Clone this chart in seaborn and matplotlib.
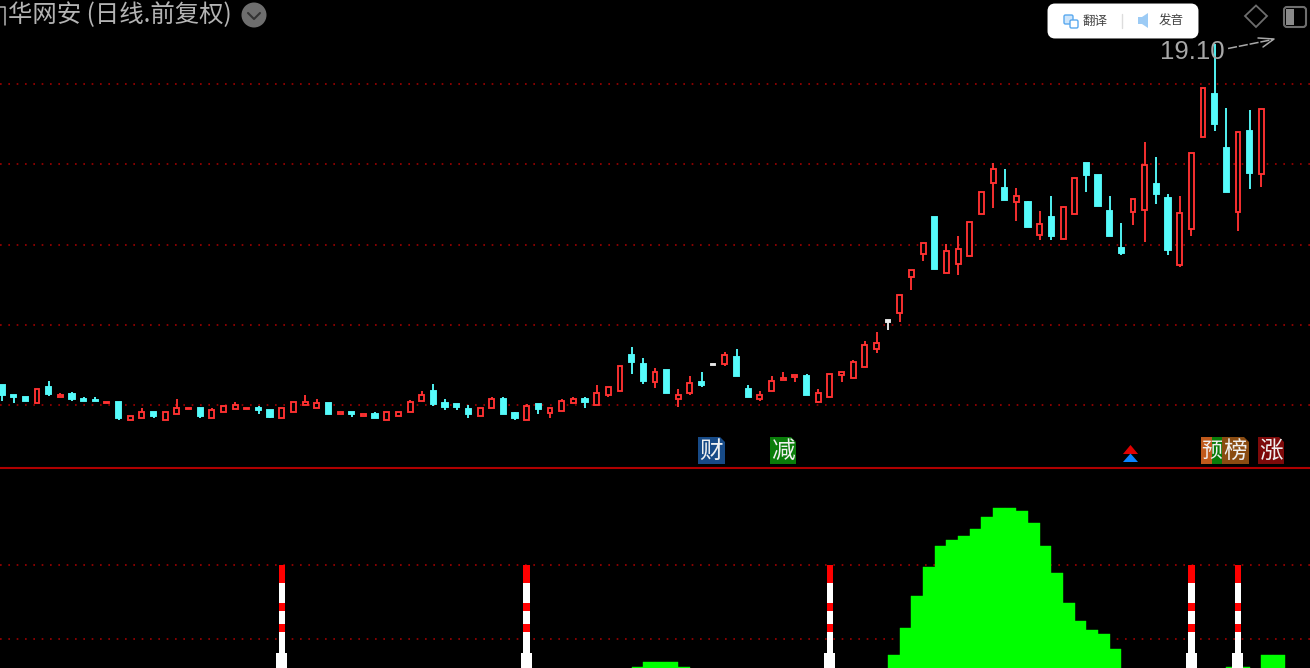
import matplotlib
matplotlib.use("Agg")
import matplotlib.pyplot as plt
from matplotlib.lines import Line2D
from matplotlib.patches import Polygon, Rectangle, FancyBboxPatch, Circle
import numpy as np
import seaborn as sns

# ---- data ----
opens = [8.87,8.57,8.51,8.33,8.81,8.51,8.60,8.45,8.42,8.33,
         8.36,7.82,7.88,8.06,7.82,8.00,8.15,8.18,7.88,8.06,
         8.15,8.15,8.18,8.12,7.88,8.06,8.27,8.18,8.33,8.00,
         8.06,7.94,8.00,7.82,7.94,8.06,8.39,8.69,8.33,8.30,
         8.15,7.94,8.18,8.45,8.03,7.82,8.30,8.03,8.09,8.33,
         8.45,8.27,8.57,8.69,9.77,9.50,8.96,9.32,8.45,8.63,
         8.96,9.50,9.50,9.71,8.75,8.45,8.69,9.02,9.11,9.14,
         8.36,8.51,9.17,9.08,9.41,9.95,10.82,11.03,12.11,12.80,
         13.91,12.23,12.50,12.74,14.00,14.93,14.78,14.36,14.36,13.37,
         13.91,13.25,14.00,15.53,15.17,14.09,12.98,14.06,14.12,14.90,
         14.48,12.47,13.55,16.31,17.60,15.98,14.06,16.49,15.20]
closes = [8.57,8.51,8.39,8.75,8.60,8.57,8.45,8.39,8.39,8.36,
          7.88,7.94,8.06,7.94,8.06,8.18,8.18,7.94,8.12,8.24,
          8.27,8.18,8.12,7.91,8.18,8.36,8.36,8.33,8.00,8.06,
          8.00,8.00,7.88,8.06,8.06,8.36,8.57,8.30,8.21,8.21,
          8.00,8.18,8.45,8.00,7.88,8.24,8.15,8.18,8.39,8.45,
          8.36,8.63,8.81,9.44,9.56,8.99,9.26,8.63,8.57,8.93,
          8.87,9.47,9.77,9.14,8.51,8.57,8.99,9.08,9.17,8.57,
          8.63,9.20,9.26,9.56,10.07,10.13,10.76,11.57,12.32,13.13,
          12.35,12.89,12.95,13.76,14.66,15.35,14.42,14.54,13.61,13.70,
          13.34,14.21,15.08,15.17,14.24,13.34,12.83,14.45,15.47,14.60,
          12.92,14.03,15.83,17.78,16.70,14.66,16.46,15.23,17.15]
highs = [8.87,8.57,8.51,8.75,8.99,8.63,8.66,8.51,8.51,8.36,
         8.36,7.94,8.18,8.06,8.06,8.45,8.18,8.18,8.18,8.24,
         8.36,8.18,8.24,8.12,8.18,8.36,8.57,8.45,8.33,8.06,
         8.06,8.00,8.06,8.06,8.06,8.42,8.69,8.90,8.45,8.30,
         8.27,8.18,8.51,8.51,8.06,8.30,8.30,8.18,8.45,8.51,
         8.51,8.87,8.81,9.44,10.01,9.68,9.38,9.32,8.75,9.14,
         9.26,9.50,9.86,9.95,8.87,8.69,9.14,9.26,9.17,9.20,
         8.75,9.20,9.26,9.62,10.19,10.46,10.82,11.57,12.32,13.13,
         13.91,13.10,13.34,13.76,14.66,15.53,15.35,14.78,14.39,14.09,
         14.54,14.21,15.08,15.53,15.17,14.54,13.73,14.45,16.16,15.71,
         14.60,14.54,15.83,17.78,19.10,17.18,16.46,17.12,17.15]
lows = [8.39,8.33,8.39,8.33,8.54,8.51,8.39,8.39,8.39,8.33,
        7.82,7.82,7.88,7.88,7.82,8.00,8.15,7.88,7.88,8.06,
        8.15,8.15,8.00,7.88,7.88,8.06,8.27,8.18,8.00,8.00,
        7.91,7.94,7.88,7.82,7.94,8.06,8.39,8.24,8.12,8.12,
        7.88,7.94,8.18,8.00,7.82,7.82,8.00,7.88,8.09,8.33,
        8.18,8.27,8.51,8.69,9.20,8.90,8.78,8.63,8.21,8.57,
        8.81,9.47,9.44,9.14,8.51,8.39,8.69,9.02,8.96,8.57,
        8.33,8.51,8.96,9.08,9.41,9.83,10.52,10.76,11.72,12.59,
        12.35,12.23,12.17,12.74,14.00,14.18,14.42,13.79,13.61,13.22,
        13.22,13.25,14.00,14.66,14.24,13.34,12.77,13.67,13.16,14.30,
        12.77,12.41,13.34,16.31,16.49,14.66,13.49,14.75,14.81]
white_days = [61, 76]

grid_prices = [17.90, 15.50, 13.07, 10.67, 8.27]
grid_indicator = [29, 103]

indicator_days = [54,55,56,57,58,
                  76,77,78,79,80,81,82,83,84,85,86,87,88,89,90,91,92,93,94,95,
                  105,106,108,109]
indicator_vals = [1,6,6,6,1,
                  13,40,72,101,122,128,132,139,151,160,160,157,145,122,95,65,47,38,34,19,
                  1,1,13,13]

signal_days = [24, 45, 71, 102, 106]
signal_edges = [0, 15, 36, 44, 57, 65, 85, 103]
signal_cols = ["white", "white", "red", "white", "red", "white", "red"]

title_text = "华网安 (日线.前复权)"
max_label = "19.10"

# ---- theme ----
RED = "#ff3232"
CYAN = "#55fbfb"
GRID = "#a00000"
W, H = 1310, 668
sns.set_theme(style="dark", rc={"axes.facecolor": "black", "figure.facecolor": "black",
                                "savefig.facecolor": "black"})
plt.rcParams["font.family"] = ["Noto Sans CJK SC", "DejaVu Sans"]

fig = plt.figure(figsize=(W / 100, H / 100), dpi=100)
ax = fig.add_axes([0, 201 / H, 1, 467 / H])
ax2 = fig.add_axes([0, 0, 1, 201 / H])
ui = fig.add_axes([0, 0, 1, 1], zorder=10)
ui.set_xlim(0, W); ui.set_ylim(H, 0); ui.axis("off"); ui.patch.set_alpha(0)

xlim = (-2 / 11.66, (W - 2) / 11.66)
dot = (0, (1, 4.0))
grid_lw = 1.2
lw = 1.35

# ---- candles ----
for g in grid_prices:
    ax.axhline(g, color=GRID, lw=grid_lw, ls=dot, zorder=1)

for i, (o, c, h, l) in enumerate(zip(opens, closes, highs, lows)):
    top, bot = max(o, c), min(o, c)
    if i in white_days:
        col, face, bw = "#e8e8e8", "#e8e8e8", 0.36
    elif c >= o:
        col, face, bw = RED, "black", 0.42
    else:
        col, face, bw = CYAN, CYAN, 0.46
    ax.vlines(i, top, h, color=col, lw=lw, zorder=2)
    ax.vlines(i, l, bot, color=col, lw=lw, zorder=2)
    ax.bar(i, top - bot, bottom=bot, width=bw, facecolor=face, edgecolor=col,
           linewidth=lw, zorder=3)
ax.set_xlim(*xlim)
ax.set_ylim(6.41, 20.42)

# ---- indicator pane ----
for g in grid_indicator:
    ax2.axhline(g, color=GRID, lw=grid_lw, ls=dot, zorder=0)
sns.barplot(x=np.array(indicator_days) + 0.5, y=indicator_vals, native_scale=True, width=1,
            color="#00ff00", saturation=1, linewidth=0.3, edgecolor="#00ff00", ax=ax2, zorder=2)
for d in signal_days:
    for k, col in enumerate(signal_cols):
        bw = 0.95 if k == 0 else 0.55
        ax2.bar(d, signal_edges[k + 1] - signal_edges[k], bottom=signal_edges[k], width=bw,
                color=col, linewidth=0, zorder=4)
ax2.set_xlim(*xlim)
ax2.set_ylim(0, 201)

for a in (ax, ax2):
    a.set_xticks([]); a.set_yticks([]); a.set_xlabel(""); a.set_ylabel("")
    a.grid(False)
    for s in a.spines.values():
        s.set_visible(False)

# ---- separator ----
ui.add_line(Line2D([0, W], [467.5, 467.5], color="#b00000", lw=1.5))

# ---- tag boxes ----
def tag(x0, x1, col, txt):
    ui.add_patch(Polygon([(x0, 437), (x1 - 5, 437), (x1, 442), (x1, 464), (x0, 464)],
                         closed=True, facecolor=col, edgecolor="none"))
    ui.text((x0 + x1) / 2, 451, txt, color="#f0f0f0", fontsize=17, ha="center", va="center")

tag(698, 725, "#174a86", "财")
tag(770, 796, "#0a7d0a", "减")
ui.add_patch(Rectangle((1201, 437), 11, 27, facecolor="#c05a1c", edgecolor="none"))
ui.add_patch(Rectangle((1212, 437), 10, 27, facecolor="#0a7d0a", edgecolor="none"))
ui.text(1211.5, 451, "预", color="#f0f0f0", fontsize=15, ha="center", va="center")
tag(1222, 1249, "#8a4c12", "榜")
tag(1258, 1284, "#7d0a0a", "涨")
ui.add_patch(Polygon([(1123, 454), (1130.5, 445), (1138, 454)], facecolor="#e00000", edgecolor="none"))
ui.add_patch(Polygon([(1123, 462), (1130.5, 453.5), (1138, 462)], facecolor="#0a84ff", edgecolor="none"))

# ---- title and chrome ----
ui.add_line(Line2D([0, 5, 5], [7, 7, 25], color="#b4b4b4", lw=1.1))
ui.text(7.5, 15, title_text, color="#b4b4b4", fontsize=17.6, ha="left", va="center")
ui.add_patch(Circle((254, 15), 12.5, facecolor="#6e6e6e", edgecolor="none"))
ui.add_line(Line2D([248, 254, 260], [13, 19, 13], color="#333333", lw=1.5))

ui.text(1160, 52, max_label, color="#a8a8a8", fontsize=18.5, family="Liberation Sans",
        ha="left", va="center")
ui.add_line(Line2D([1228, 1273], [48.5, 39.5], color="#a8a8a8", lw=1.1, ls=(0, (6, 1.2))))
ui.add_line(Line2D([1258, 1274, 1263], [38, 39, 47], color="#a8a8a8", lw=1.1))

ui.add_patch(FancyBboxPatch((1051, 7), 144, 28, boxstyle="round,pad=0,rounding_size=4",
                            facecolor="white", edgecolor="white", lw=5))
ui.add_patch(FancyBboxPatch((1064, 15), 9, 9, boxstyle="round,pad=0,rounding_size=1.5",
                            facecolor="#cfe6fb", edgecolor="#5aa9ef", lw=1))
ui.add_patch(FancyBboxPatch((1070, 20), 8, 8, boxstyle="round,pad=0,rounding_size=1.5",
                            facecolor="white", edgecolor="#5aa9ef", lw=1))
ui.text(1095, 21, "翻译", color="#444444", fontsize=9, ha="center", va="center")
ui.add_line(Line2D([1121.5, 1121.5], [14, 28], color="#dddddd", lw=1))
ui.add_patch(Polygon([(1138, 17), (1142, 17), (1148, 13), (1148, 28), (1142, 24), (1138, 24)],
                     facecolor="#9ccbf5", edgecolor="none"))
ui.text(1171, 21, "发音", color="#444444", fontsize=9, ha="center", va="center")

ui.add_patch(Polygon([(1245, 16), (1256, 5.5), (1267, 16), (1256, 27)], fill=False,
                     edgecolor="#6e6e6e", lw=1.3))
ui.add_patch(FancyBboxPatch((1284, 7), 22, 20, boxstyle="round,pad=0,rounding_size=3",
                            fill=False, edgecolor="#6e6e6e", lw=1.5))
ui.add_patch(Rectangle((1286, 9), 8, 16, facecolor="#8a8a8a", edgecolor="none"))

fig.savefig("out.png", dpi=100)
